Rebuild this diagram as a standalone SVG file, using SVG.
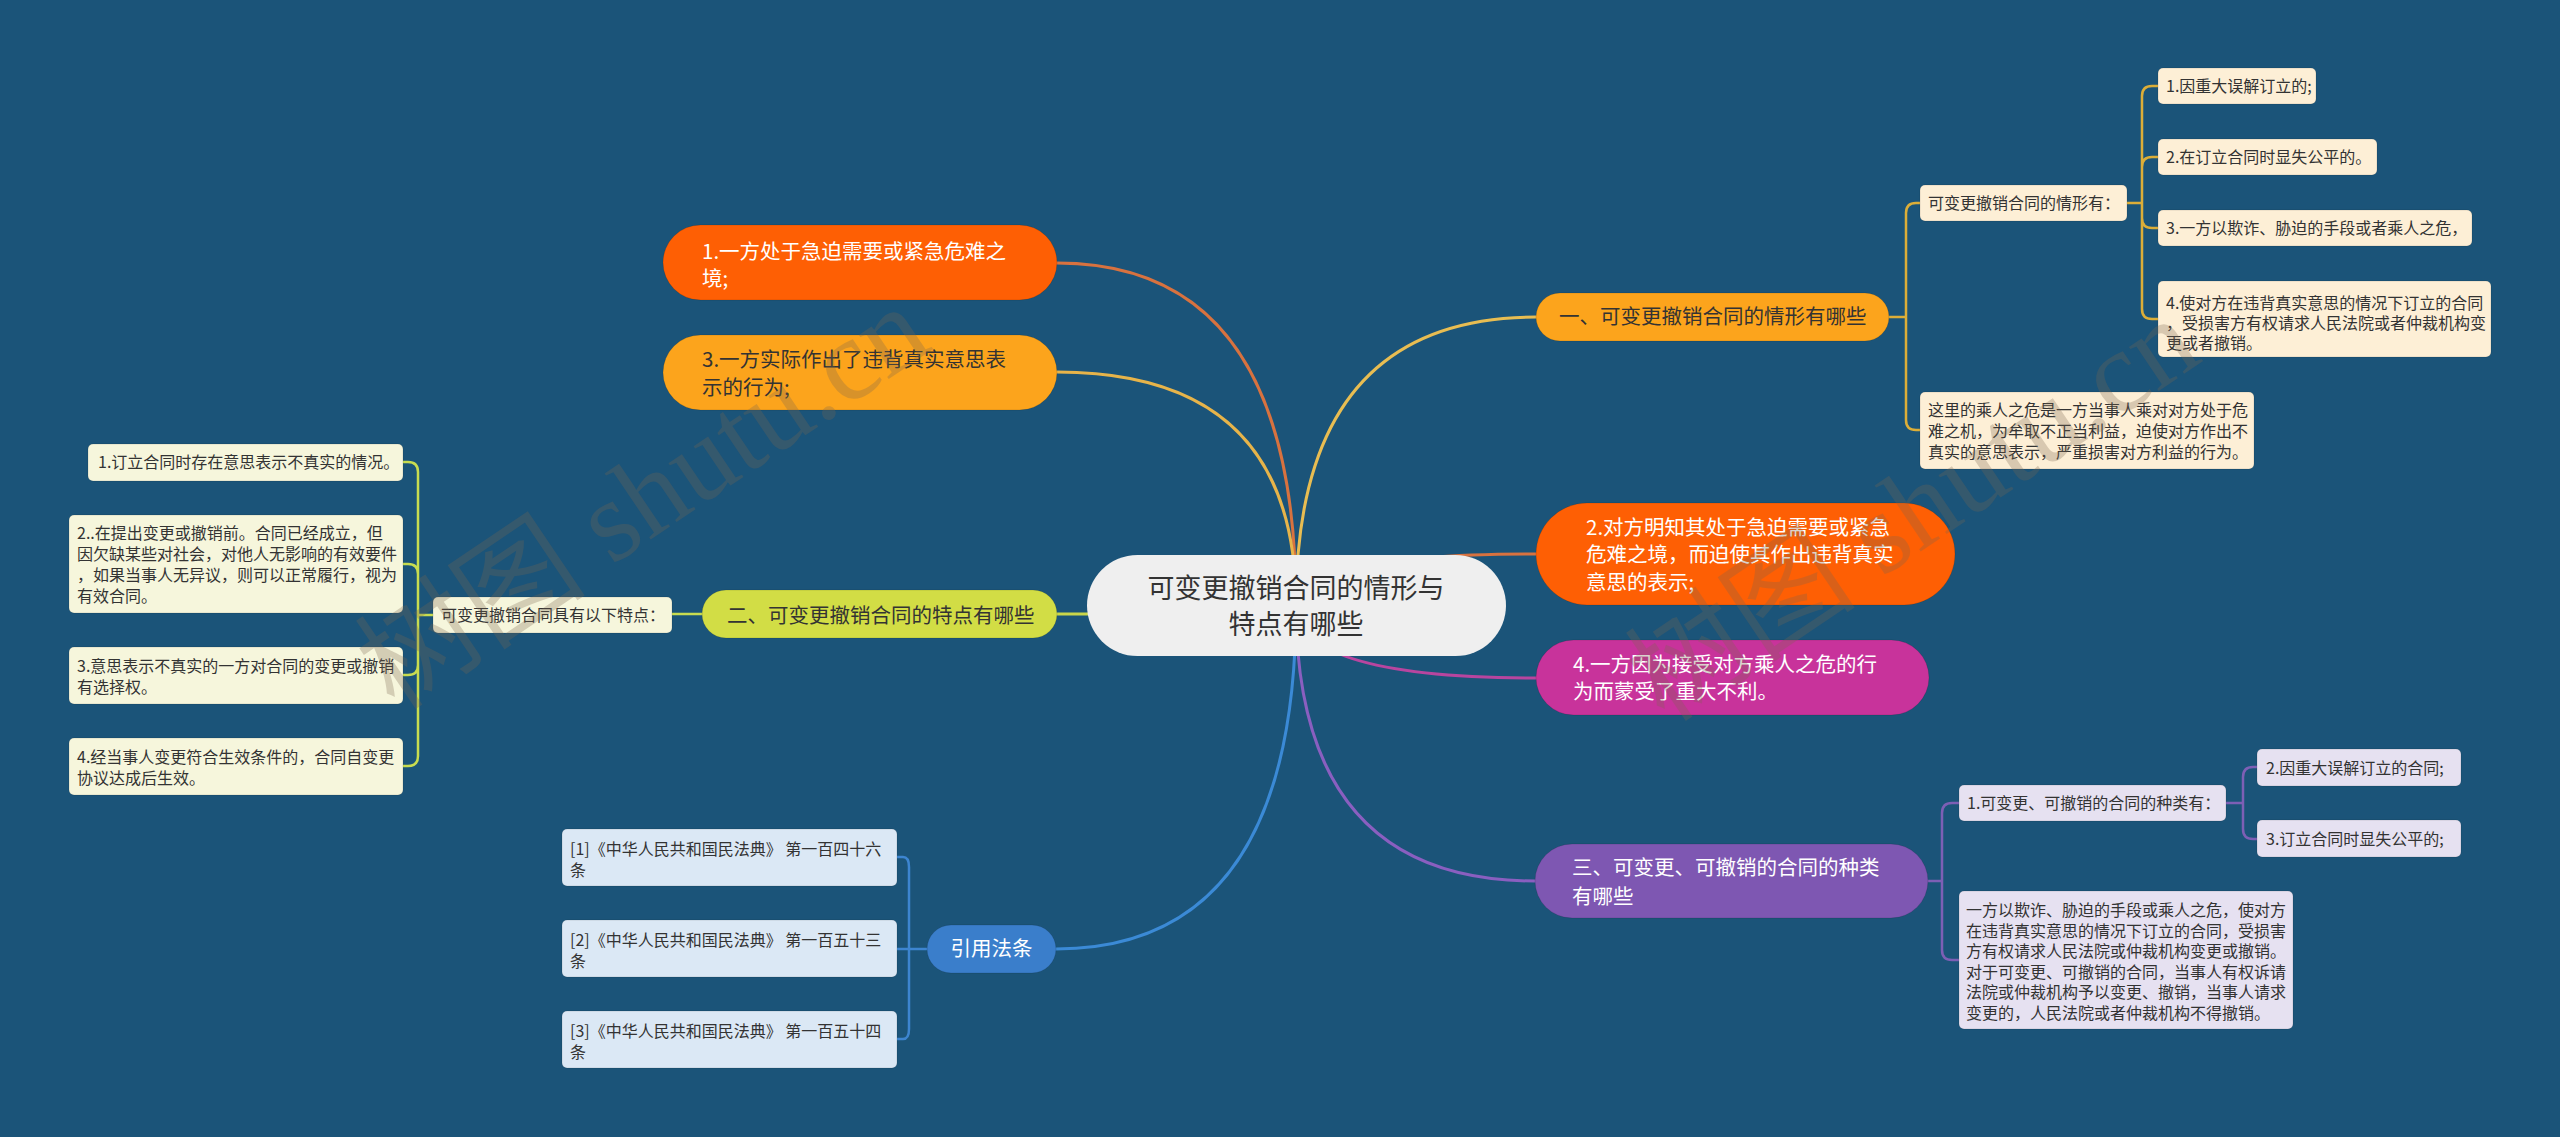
<svg xmlns="http://www.w3.org/2000/svg" width="2560" height="1137" viewBox="0 0 2560 1137">
<defs>
<style>
text{font-family:"Noto Sans CJK SC","Liberation Sans",sans-serif;}
.c{fill:none;stroke-width:3;stroke-linecap:round;}
.s{fill:none;stroke-width:2.5;}
.t1{font-size:20.5px;}
.t2{font-size:16px;fill:#333;}
.dk{fill:#333;}
.wt{fill:#fff;}
.sb{stroke:rgba(0,0,0,0.12);stroke-width:1;}
.wm{font-family:"Liberation Serif","Noto Sans CJK SC",serif;font-size:116px;fill:#7a6650;opacity:0.28;}
</style>
</defs>
<rect x="0" y="0" width="2560" height="1137" fill="#1b5479"/>

<g id="connectors">
<path class="c" stroke="#d8723f" d="M1296,605 Q1296,263 1057,263"/>
<path class="c" stroke="#e7b44a" d="M1296,605 Q1296,372 1057,372"/>
<path class="c" stroke="#c9d64a" d="M1296,605 Q1296,614 1057,614"/>
<path class="c" stroke="#3b8ad6" d="M1296,605 Q1296,949 1056,949"/>
<path class="c" stroke="#e8bd52" d="M1296,605 Q1296,317 1536,317"/>
<path class="c" stroke="#d8723f" d="M1296,605 Q1296,554 1536,554"/>
<path class="c" stroke="#b8459f" d="M1296,605 Q1296,678 1536,678"/>
<path class="c" stroke="#8a5fc0" d="M1296,605 Q1296,881 1535,881"/>

<g stroke="#dcae38" class="s">
<path d="M1889,317 H1906 M1906,317 V213 Q1906,203 1916,203 H1920 M1906,317 V420 Q1906,430 1916,430 H1920"/>
<path d="M2127,203 H2142 M2142,203 V96 Q2142,86 2152,86 H2158 M2142,203 V167 Q2142,157 2152,157 H2158 M2142,203 V218 Q2142,228 2152,228 H2158 M2142,203 V309 Q2142,319 2152,319 H2158"/>
</g>
<g stroke="#c8dc50" class="s">
<path d="M702,614 H672 M433,615 H418 M418,615 V472 Q418,462 408,462 H403 M418,615 V574 Q418,564 408,564 H403 M418,615 V665 Q418,675 408,675 H403 M418,615 V756 Q418,766 408,766 H403"/>
</g>
<g stroke="#7d5fb5" class="s">
<path d="M1928,881 H1942 M1942,881 V813 Q1942,803 1952,803 H1959 M1942,881 V950 Q1942,960 1952,960 H1959"/>
<path d="M2226,803 H2243 M2243,803 V777 Q2243,767 2253,767 H2257 M2243,803 V829 Q2243,839 2253,839 H2257"/>
</g>
<g stroke="#3d85d0" class="s">
<path d="M927,949 H909 M909,949 V867 Q909,857 903,857 H897 M909,949 H897 M909,949 V1029 Q909,1039 903,1039 H897"/>
</g>
</g>

<g id="root">
<rect x="1087" y="555" width="419" height="101" rx="50.5" fill="#efefef"/>
<text x="1296" y="598" font-size="27" fill="#333" text-anchor="middle">可变更撤销合同的情形与</text>
<text x="1296" y="634" font-size="27" fill="#333" text-anchor="middle">特点有哪些</text>
</g>

<g id="n-left1">
<rect x="663" y="225" width="394" height="75" rx="37.5" fill="#fe5f04" class="sb"/>
<text class="t1 wt"><tspan x="702" y="259">1.一方处于急迫需要或紧急危难之</tspan><tspan x="702" y="286">境;</tspan></text>
</g>
<g id="n-left3">
<rect x="663" y="335" width="394" height="75" rx="37.5" fill="#fca41c" class="sb"/>
<text class="t1 dk"><tspan x="702" y="367">3.一方实际作出了违背真实意思表</tspan><tspan x="702" y="395">示的行为;</tspan></text>
</g>
<g id="n-er">
<rect x="702" y="590" width="355" height="48" rx="24" fill="#d2dd45" class="sb"/>
<text class="t1 dk" x="727" y="623">二、可变更撤销合同的特点有哪些</text>
</g>
<g id="n-yinyong">
<rect x="927" y="925" width="129" height="48" rx="24" fill="#3a7ecb" class="sb"/>
<text class="t1 wt" x="991.5" y="956" text-anchor="middle">引用法条</text>
</g>
<g id="n-yi">
<rect x="1536" y="293" width="353" height="48" rx="24" fill="#fca41c" class="sb"/>
<text class="t1 dk" x="1559" y="324">一、可变更撤销合同的情形有哪些</text>
</g>
<g id="n-right2">
<rect x="1536" y="503" width="419" height="102" rx="51" fill="#fe5f04" class="sb"/>
<text class="t1 wt"><tspan x="1586" y="535">2.对方明知其处于急迫需要或紧急</tspan><tspan x="1586" y="562">危难之境，而迫使其作出违背真实</tspan><tspan x="1586" y="590">意思的表示;</tspan></text>
</g>
<g id="n-right4">
<rect x="1536" y="640" width="393" height="75" rx="37.5" fill="#c8339b" class="sb"/>
<text class="t1 wt"><tspan x="1573" y="672">4.一方因为接受对方乘人之危的行</tspan><tspan x="1573" y="699">为而蒙受了重大不利。</tspan></text>
</g>
<g id="n-san">
<rect x="1535" y="844" width="393" height="74" rx="37" fill="#7e57b2" class="sb"/>
<text class="t1 wt"><tspan x="1572" y="875">三、可变更、可撤销的合同的种类</tspan><tspan x="1572" y="904">有哪些</tspan></text>
</g>

<g id="yi-a">
<rect x="1920" y="185" width="207" height="36" rx="5" fill="#fdefd6" class="sb"/>
<text class="t2" x="1928" y="209">可变更撤销合同的情形有：</text>
</g>
<g id="yi-a1">
<rect x="2158" y="68" width="158" height="36" rx="5" fill="#fdefd6" class="sb"/>
<text class="t2" x="2166" y="92">1.因重大误解订立的;</text>
</g>
<g id="yi-a2">
<rect x="2158" y="139" width="219" height="36" rx="5" fill="#fdefd6" class="sb"/>
<text class="t2" x="2166" y="163">2.在订立合同时显失公平的。</text>
</g>
<g id="yi-a3">
<rect x="2158" y="210" width="314" height="36" rx="5" fill="#fdefd6" class="sb"/>
<text class="t2" x="2166" y="234">3.一方以欺诈、胁迫的手段或者乘人之危，</text>
</g>
<g id="yi-a4">
<rect x="2158" y="281" width="333" height="76" rx="5" fill="#fdefd6" class="sb"/>
<text class="t2"><tspan x="2166" y="309">4.使对方在违背真实意思的情况下订立的合同</tspan><tspan x="2166" y="329">，受损害方有权请求人民法院或者仲裁机构变</tspan><tspan x="2166" y="349">更或者撤销。</tspan></text>
</g>
<g id="yi-b">
<rect x="1920" y="392" width="334" height="77" rx="5" fill="#fdefd6" class="sb"/>
<text class="t2"><tspan x="1928" y="416">这里的乘人之危是一方当事人乘对对方处于危</tspan><tspan x="1928" y="437">难之机，为牟取不正当利益，迫使对方作出不</tspan><tspan x="1928" y="458">真实的意思表示，严重损害对方利益的行为。</tspan></text>
</g>

<g id="er-a">
<rect x="433" y="597" width="239" height="36" rx="5" fill="#f6f6dc" class="sb"/>
<text class="t2" x="441" y="621">可变更撤销合同具有以下特点：</text>
</g>
<g id="er-a1">
<rect x="88" y="444" width="315" height="37" rx="5" fill="#f6f6dc" class="sb"/>
<text class="t2" x="98" y="468">1.订立合同时存在意思表示不真实的情况。</text>
</g>
<g id="er-a2">
<rect x="69" y="515" width="334" height="98" rx="5" fill="#f6f6dc" class="sb"/>
<text class="t2"><tspan x="77" y="539">2..在提出变更或撤销前。合同已经成立，但</tspan><tspan x="77" y="560">因欠缺某些对社会，对他人无影响的有效要件</tspan><tspan x="77" y="581">，如果当事人无异议，则可以正常履行，视为</tspan><tspan x="77" y="602">有效合同。</tspan></text>
</g>
<g id="er-a3">
<rect x="69" y="647" width="334" height="57" rx="5" fill="#f6f6dc" class="sb"/>
<text class="t2"><tspan x="77" y="672">3.意思表示不真实的一方对合同的变更或撤销</tspan><tspan x="77" y="693">有选择权。</tspan></text>
</g>
<g id="er-a4">
<rect x="69" y="738" width="334" height="57" rx="5" fill="#f6f6dc" class="sb"/>
<text class="t2"><tspan x="77" y="763">4.经当事人变更符合生效条件的，合同自变更</tspan><tspan x="77" y="784">协议达成后生效。</tspan></text>
</g>

<g id="san-a">
<rect x="1959" y="785" width="267" height="36" rx="5" fill="#e6e1f1" class="sb"/>
<text class="t2" x="1967" y="809">1.可变更、可撤销的合同的种类有：</text>
</g>
<g id="san-a2">
<rect x="2257" y="749" width="204" height="37" rx="5" fill="#e6e1f1" class="sb"/>
<text class="t2" x="2266" y="774">2.因重大误解订立的合同;</text>
</g>
<g id="san-a3">
<rect x="2257" y="820" width="204" height="37" rx="5" fill="#e6e1f1" class="sb"/>
<text class="t2" x="2266" y="845">3.订立合同时显失公平的;</text>
</g>
<g id="san-b">
<rect x="1959" y="891" width="334" height="138" rx="5" fill="#e6e1f1" class="sb"/>
<text class="t2"><tspan x="1966" y="916">一方以欺诈、胁迫的手段或乘人之危，使对方</tspan><tspan x="1966" y="936.5">在违背真实意思的情况下订立的合同，受损害</tspan><tspan x="1966" y="957">方有权请求人民法院或仲裁机构变更或撤销。</tspan><tspan x="1966" y="977.5">对于可变更、可撤销的合同，当事人有权诉请</tspan><tspan x="1966" y="998">法院或仲裁机构予以变更、撤销，当事人请求</tspan><tspan x="1966" y="1018.5">变更的，人民法院或者仲裁机构不得撤销。</tspan></text>
</g>

<g id="law-1">
<rect x="562" y="829" width="335" height="57" rx="5" fill="#dbe8f5" class="sb"/>
<text class="t2"><tspan x="570" y="855">[1]《中华人民共和国民法典》 第一百四十六</tspan><tspan x="570" y="876">条</tspan></text>
</g>
<g id="law-2">
<rect x="562" y="920" width="335" height="57" rx="5" fill="#dbe8f5" class="sb"/>
<text class="t2"><tspan x="570" y="946">[2]《中华人民共和国民法典》 第一百五十三</tspan><tspan x="570" y="967">条</tspan></text>
</g>
<g id="law-3">
<rect x="562" y="1011" width="335" height="57" rx="5" fill="#dbe8f5" class="sb"/>
<text class="t2"><tspan x="570" y="1037">[3]《中华人民共和国民法典》 第一百五十四</tspan><tspan x="570" y="1058">条</tspan></text>
</g>

<g id="watermark">
<text class="wm" transform="translate(395,712) rotate(-34)">树图 shutu.cn</text>
<text class="wm" transform="translate(1665,724) rotate(-34)">树图 shutu.cn</text>
</g>
</svg>
